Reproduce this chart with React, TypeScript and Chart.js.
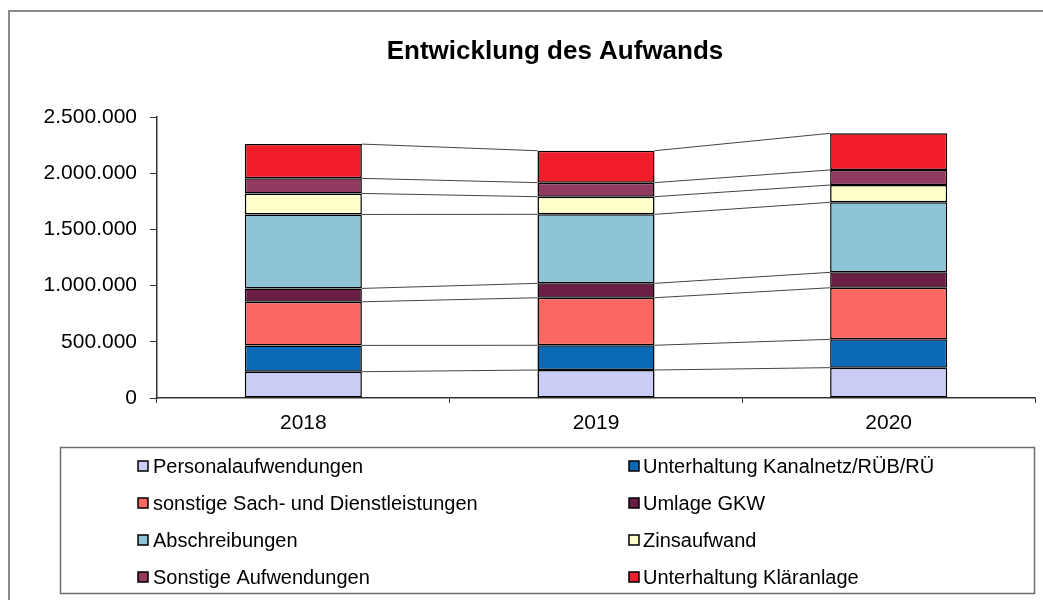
import React, { useEffect, useRef } from "react";
import { Chart, registerables } from "chart.js";

Chart.register(...registerables);

const years = ["2018", "2019", "2020"];
const seriesNames = [
  "Personalaufwendungen",
  "Unterhaltung Kanalnetz/RÜB/RÜ",
  "sonstige Sach- und Dienstleistungen",
  "Umlage GKW",
  "Abschreibungen",
  "Zinsaufwand",
  "Sonstige Aufwendungen",
  "Unterhaltung Kläranlage",
];
const personal = [234000, 249000, 270000];
const kanalnetz = [234000, 220000, 252000];
const sachDienst = [388000, 423000, 459000];
const umlageGKW = [119000, 128000, 137000];
const abschreibungen = [658000, 614000, 623000];
const zinsaufwand = [187000, 157000, 154000];
const sonstigeAufw = [134000, 125000, 134000];
const klaeranlage = [305000, 284000, 326000];
const seriesValues = [personal, kanalnetz, sachDienst, umlageGKW, abschreibungen, zinsaufwand, sonstigeAufw, klaeranlage];
const seriesColors = ["#c9cdf5", "#0b69b6", "#fb6861", "#6a1d45", "#8ec5d6", "#ffffcc", "#8f3a5e", "#f21d2b"];
const yTicks = [0, 500000, 1000000, 1500000, 2000000, 2500000];
const titleText = "Entwicklung des Aufwands";

const FONT = "'Liberation Sans', Arial, sans-serif";

const fmt = (v: number) => String(Math.round(v)).replace(/\B(?=(\d{3})+(?!\d))/g, ".");

const decorPlugin = {
  id: "decor",
  beforeDraw(chart: any) {
    const ctx = chart.ctx;
    ctx.save();
    ctx.fillStyle = "#ffffff";
    ctx.fillRect(0, 0, chart.width, chart.height);
    // outer frame
    ctx.strokeStyle = "#8a8a8a";
    ctx.lineWidth = 2;
    ctx.beginPath();
    ctx.moveTo(9, chart.height + 2);
    ctx.lineTo(9, 11);
    ctx.lineTo(chart.width + 2, 11);
    ctx.stroke();
    // title
    ctx.fillStyle = "#000";
    ctx.font = `bold 26px ${FONT}`;
    ctx.textAlign = "center";
    ctx.textBaseline = "middle";
    ctx.fillText(titleText, 555, 52);
    ctx.restore();
  },
  afterDatasetsDraw(chart: any) {
    const ctx = chart.ctx;
    ctx.save();
    ctx.strokeStyle = "#444";
    ctx.lineWidth = 1;
    chart.data.datasets.forEach((_: any, i: number) => {
      const meta = chart.getDatasetMeta(i);
      for (let j = 0; j < meta.data.length - 1; j++) {
        const a = meta.data[j];
        const b = meta.data[j + 1];
        ctx.beginPath();
        ctx.moveTo(a.x + a.width / 2, a.y);
        ctx.lineTo(b.x - b.width / 2, b.y);
        ctx.stroke();
      }
    });
    ctx.restore();
  },
  afterDraw(chart: any) {
    const ctx = chart.ctx;
    ctx.save();
    // legend box
    ctx.strokeStyle = "#6e6e6e";
    ctx.lineWidth = 1.5;
    ctx.strokeRect(60.5, 447.5, 974, 146);
    ctx.font = `20px ${FONT}`;
    ctx.textAlign = "left";
    ctx.textBaseline = "middle";
    const rowY = [466, 503, 540, 577];
    const iconX = [138, 629];
    const textX = [153, 643];
    chart.data.datasets.forEach((ds: any, i: number) => {
      const col = i % 2;
      const row = Math.floor(i / 2);
      const y = rowY[row];
      ctx.fillStyle = ds.backgroundColor;
      ctx.fillRect(iconX[col], y - 5, 10, 10);
      ctx.strokeStyle = "#000";
      ctx.lineWidth = 1.5;
      ctx.strokeRect(iconX[col], y - 5, 10, 10);
      ctx.fillStyle = "#000";
      ctx.fillText(ds.label, textX[col], y + 1);
    });
    ctx.restore();
  },
};

export default function App() {
  const ref = useRef<HTMLCanvasElement | null>(null);
  useEffect(() => {
    if (!ref.current) return;
    const chart = new Chart(ref.current, {
      type: "bar",
      data: {
        labels: years,
        datasets: seriesNames.map((name, i) => ({
          label: name,
          data: seriesValues[i],
          backgroundColor: seriesColors[i],
          borderColor: "#000",
          borderWidth: 1.5,
          borderSkipped: false,
          barPercentage: 0.4,
          categoryPercentage: 1,
        })),
      },
      options: {
        responsive: false,
        animation: false,
        layout: { padding: { left: 0, top: 117, right: 8, bottom: 152 } },
        plugins: { legend: { display: false }, title: { display: false }, tooltip: { enabled: false } },
        scales: {
          x: {
            stacked: true,
            grid: { offset: true, drawOnChartArea: false, drawTicks: true, tickLength: 5, color: "#333", lineWidth: 1 },
            border: { color: "#333", width: 1.5 },
            ticks: { color: "#000", font: { family: FONT, size: 21 }, padding: 8 },
            afterFit: (s: any) => { s.height = 50; },
          },
          y: {
            stacked: true,
            min: 0,
            max: 2500000,
            afterBuildTicks: (s: any) => { s.ticks = yTicks.map((v) => ({ value: v })); },
            grid: { drawOnChartArea: false, drawTicks: true, tickLength: 7, color: "#333", lineWidth: 1 },
            border: { color: "#333", width: 1.5 },
            ticks: { color: "#000", font: { family: FONT, size: 21 }, padding: 13, callback: (v: any) => fmt(Number(v)) },
            afterFit: (s: any) => { s.width = 157; },
          },
        },
      },
      plugins: [decorPlugin],
    });
    return () => chart.destroy();
  }, []);
  return (
    <div style={{ position: "absolute", left: 0, top: 0, width: 1043, height: 600 }}>
      <canvas ref={ref} width={1043} height={600} />
    </div>
  );
}
